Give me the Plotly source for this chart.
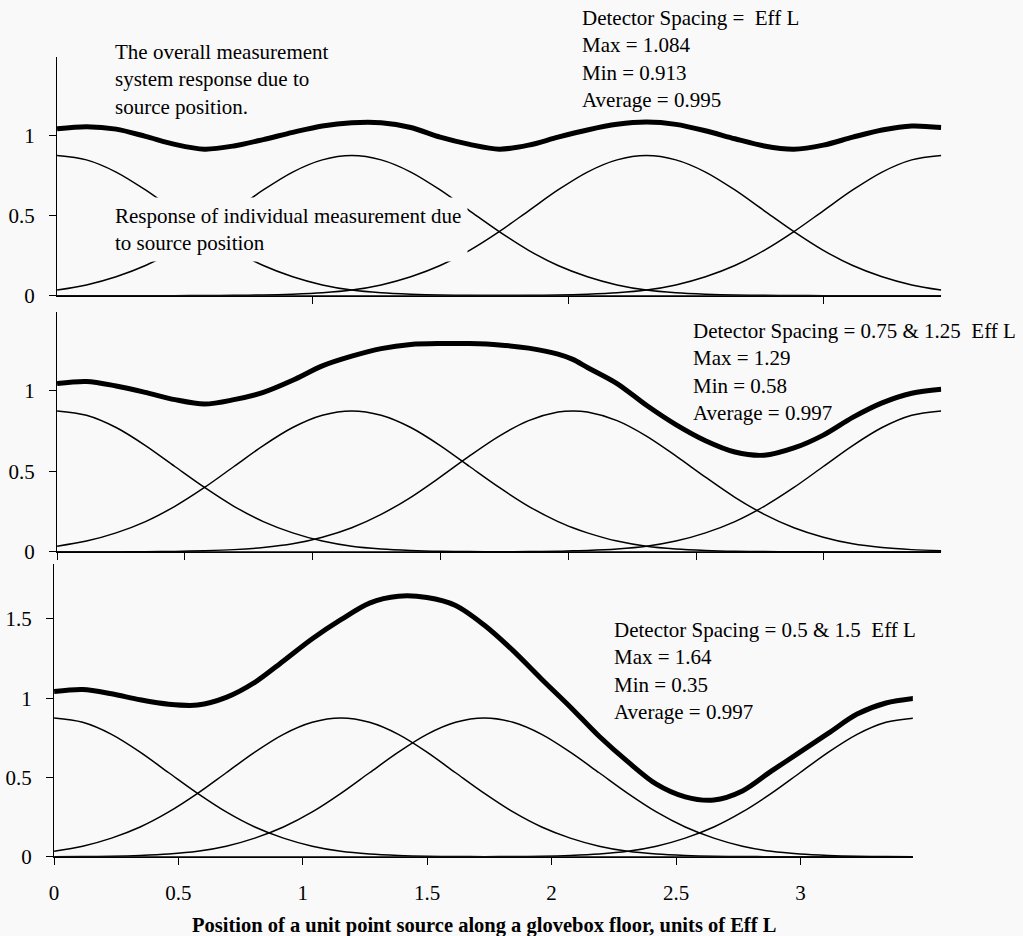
import plotly.graph_objects as go

W, H = 1023, 936
FIG_H = 950
BG = "#f9f9f9"
FONT = "Liberation Serif"

# ---------------- data ----------------
# Position grid (units of Eff L)
x_grid = [0.000, 0.115, 0.231, 0.346, 0.461, 0.577, 0.692, 0.807, 0.922, 1.038,
          1.153, 1.268, 1.384, 1.499, 1.614, 1.730, 1.845, 1.960, 2.075, 2.191,
          2.306, 2.421, 2.537, 2.652, 2.767, 2.883, 2.998, 3.113, 3.228, 3.344, 3.459]

# Panel 1: detector spacing = Eff L
p1_det1 = [0.875, 0.848, 0.772, 0.660, 0.530, 0.400, 0.283, 0.188, 0.118, 0.067,
           0.035, 0.018, 0.009, 0.004, 0.002, 0.001, 0, 0, 0, 0,
           0, 0, 0, 0, 0, 0, 0, 0, 0, 0, 0]
p1_det2 = [0.035, 0.067, 0.118, 0.188, 0.283, 0.400, 0.530, 0.660, 0.772, 0.848,
           0.875, 0.848, 0.772, 0.660, 0.530, 0.400, 0.283, 0.188, 0.118, 0.067,
           0.035, 0.018, 0.009, 0.004, 0.002, 0.001, 0, 0, 0, 0, 0]
p1_det3 = [0, 0, 0, 0, 0, 0.001, 0.002, 0.004, 0.009, 0.018,
           0.035, 0.067, 0.118, 0.188, 0.283, 0.400, 0.530, 0.660, 0.772, 0.848,
           0.875, 0.848, 0.772, 0.660, 0.530, 0.400, 0.283, 0.188, 0.118, 0.067, 0.035]
p1_det4 = [0, 0, 0, 0, 0, 0, 0, 0, 0, 0,
           0, 0, 0, 0, 0, 0.001, 0.002, 0.004, 0.009, 0.018,
           0.035, 0.067, 0.118, 0.188, 0.283, 0.400, 0.530, 0.660, 0.772, 0.848, 0.875]
p1_total = [1.042, 1.055, 1.040, 0.995, 0.945, 0.915, 0.935, 0.975, 1.020, 1.060,
            1.080, 1.080, 1.050, 0.990, 0.945, 0.915, 0.940, 0.990, 1.035, 1.070,
            1.084, 1.070, 1.030, 0.980, 0.935, 0.915, 0.940, 0.990, 1.035, 1.060, 1.050]

# Panel 2: detector spacing = 0.75 & 1.25 Eff L
x_grid2 = [0.000, 0.115, 0.231, 0.346, 0.461, 0.577, 0.692, 0.807, 0.922, 1.038,
           1.153, 1.268, 1.384, 1.499, 1.614, 1.730, 1.845, 1.960, 2.018, 2.075,
           2.191, 2.306, 2.421, 2.537, 2.652, 2.767, 2.883, 2.998, 3.113, 3.228,
           3.344, 3.459]
p2_det1 = [0.875, 0.848, 0.772, 0.660, 0.530, 0.400, 0.283, 0.188, 0.118, 0.067,
           0.035, 0.018, 0.009, 0.004, 0.002, 0.001, 0, 0, 0, 0,
           0, 0, 0, 0, 0, 0, 0, 0, 0, 0, 0, 0]
p2_det2 = [0.035, 0.067, 0.118, 0.188, 0.283, 0.400, 0.530, 0.660, 0.772, 0.848,
           0.875, 0.848, 0.772, 0.660, 0.530, 0.400, 0.283, 0.188, 0.150, 0.118,
           0.067, 0.035, 0.018, 0.009, 0.004, 0.002, 0.001, 0, 0, 0, 0, 0]
p2_det3 = [0, 0, 0, 0.001, 0.003, 0.007, 0.014, 0.027, 0.050, 0.091,
           0.150, 0.233, 0.339, 0.464, 0.596, 0.719, 0.815, 0.868, 0.875, 0.868,
           0.815, 0.719, 0.596, 0.464, 0.339, 0.233, 0.150, 0.091, 0.050, 0.027,
           0.014, 0.007]
p2_det4 = [0, 0, 0, 0, 0, 0, 0, 0, 0, 0,
           0, 0, 0, 0, 0, 0.001, 0.002, 0.004, 0.007, 0.009, 0.018,
           0.035, 0.067, 0.118, 0.188, 0.283, 0.400, 0.530, 0.660, 0.772, 0.848, 0.875]
p2_total = [1.045, 1.058, 1.030, 0.990, 0.945, 0.918, 0.945, 0.990, 1.065, 1.155,
            1.215, 1.262, 1.288, 1.294, 1.293, 1.285, 1.265, 1.228, 1.195, 1.145,
            1.045, 0.910, 0.790, 0.690, 0.620, 0.600, 0.645, 0.725, 0.835, 0.925,
            0.985, 1.010]

# Panel 3: detector spacing = 0.5 & 1.5 Eff L
p3_det1 = p1_det1
p3_det2 = p1_det2
p3_det3 = [0.001, 0.002, 0.004, 0.009, 0.018, 0.035, 0.067, 0.118, 0.188, 0.283,
           0.400, 0.530, 0.660, 0.772, 0.848, 0.875, 0.848, 0.772, 0.660, 0.530,
           0.400, 0.283, 0.188, 0.118, 0.067, 0.035, 0.018, 0.009, 0.004, 0.002, 0.001]
p3_det4 = p1_det4
p3_total = [1.042, 1.055, 1.028, 0.990, 0.962, 0.957, 1.005, 1.100, 1.235, 1.375,
            1.495, 1.600, 1.643, 1.635, 1.585, 1.460, 1.300, 1.120, 0.945, 0.760,
            0.600, 0.458, 0.378, 0.358, 0.415, 0.540, 0.660, 0.780, 0.900, 0.970, 1.000]

panel_notes = [
    "Detector Spacing =  Eff L<br>Max = 1.084<br>Min = 0.913<br>Average = 0.995",
    "Detector Spacing = 0.75 & 1.25  Eff L<br>Max = 1.29<br>Min = 0.58<br>Average = 0.997",
    "Detector Spacing = 0.5 & 1.5  Eff L<br>Max = 1.64<br>Min = 0.35<br>Average = 0.997",
]
x_title = "Position of a unit point source along a glovebox floor, units of Eff L"

# ---------------- figure ----------------
def px_x(p):
    return p / W

def px_y(p):
    return (H - p) / H

fig = go.Figure()

panels = [
    ("x", "y", x_grid, [p1_det1, p1_det2, p1_det3, p1_det4], p1_total),
    ("x2", "y2", x_grid2, [p2_det1, p2_det2, p2_det3, p2_det4], p2_total),
    ("x3", "y3", x_grid, [p3_det1, p3_det2, p3_det3, p3_det4], p3_total),
]
for xa, ya, xs, dets, tot in panels:
    for d in dets:
        fig.add_trace(go.Scatter(x=xs, y=d, mode="lines", xaxis=xa, yaxis=ya,
                                 line=dict(color="black", width=1.5, shape="spline", smoothing=0.9),
                                 showlegend=False, hoverinfo="skip"))
    fig.add_trace(go.Scatter(x=xs, y=tot, mode="lines", xaxis=xa, yaxis=ya,
                             line=dict(color="black", width=5, shape="spline", smoothing=0.9),
                             showlegend=False, hoverinfo="skip"))

axis_common = dict(showline=True, linecolor="black", linewidth=1.2, showgrid=False,
                   zeroline=False, ticks="outside", ticklen=7, tickcolor="black",
                   tickwidth=1.2, tickfont=dict(family=FONT, size=21, color="black"))

fig.update_layout(
    width=W, height=FIG_H, margin=dict(l=0, r=0, t=0, b=0),
    paper_bgcolor=BG, plot_bgcolor=BG, showlegend=False,
    font=dict(family=FONT, size=21, color="black"),
    xaxis=dict(domain=[px_x(52.3), px_x(941)], range=[0, 3.46], anchor="y",
               tickvals=[1, 2, 3], showticklabels=False, **axis_common),
    yaxis=dict(domain=[px_y(295), px_y(57)], range=[0, 1.49], anchor="x",
               tickvals=[0, 0.5, 1], ticktext=["0", "0.5", "1"],
               ticklabelstandoff=10, **axis_common),
    xaxis2=dict(domain=[px_x(52.3), px_x(941)], range=[0, 3.46], anchor="y2",
                tickvals=[0, 0.5, 1, 1.5, 2, 2.5, 3], showticklabels=False, **axis_common),
    yaxis2=dict(domain=[px_y(550.7), px_y(311.7)], range=[0, 1.487], anchor="x2",
                tickvals=[0, 0.5, 1], ticktext=["0", "0.5", "1"],
                ticklabelstandoff=10, **axis_common),
    xaxis3=dict(domain=[px_x(49.3), px_x(912.3)], range=[0, 3.452], anchor="y3",
                tickvals=[0, 0.5, 1, 1.5, 2, 2.5, 3],
                ticktext=["0", "0.5", "1", "1.5", "2", "2.5", "3"],
                ticklabelstandoff=10, **axis_common),
    yaxis3=dict(domain=[px_y(855), px_y(563)], range=[0, 1.845], anchor="x3",
                tickvals=[0, 0.5, 1, 1.5], ticktext=["0", "0.5", "1", "1.5"],
                ticklabelstandoff=10, **axis_common),
)

ann_font = dict(family=FONT, size=21, color="black")
annotations = [
    dict(text="The overall measurement<br>system response due to<br>source position.",
         x=px_x(109), y=px_y(79), xanchor="left", yanchor="middle", align="left"),
    dict(text="Response of individual measurement due<br>to source position",
         x=px_x(104), y=px_y(229), xanchor="left", yanchor="middle", align="left",
         bgcolor=BG, borderpad=6),
    dict(text=panel_notes[0], x=px_x(578), y=px_y(59), xanchor="left", yanchor="middle", align="left"),
    dict(text=panel_notes[1], x=px_x(689), y=px_y(371), xanchor="left", yanchor="middle", align="left"),
    dict(text=panel_notes[2], x=px_x(610), y=px_y(670), xanchor="left", yanchor="middle", align="left"),
    dict(text="<b>" + x_title + "</b>", x=px_x(481), y=px_y(924), xanchor="center", yanchor="middle",
         font=dict(family=FONT, size=20.5, color="black")),
]
for a in annotations:
    a.setdefault("font", ann_font)
    a.update(xref="paper", yref="paper", showarrow=False)
fig.update_layout(annotations=annotations)

post = (
    "document.documentElement.style.margin='0';"
    "document.body.style.margin='0';"
    "document.body.style.overflow='hidden';"
)
fig.write_html("out.html", config={"displayModeBar": False}, post_script=post)
